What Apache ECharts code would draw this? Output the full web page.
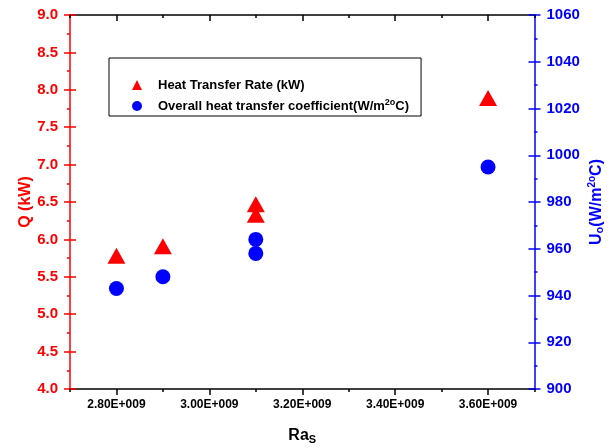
<!DOCTYPE html>
<html>
<head>
<meta charset="utf-8">
<script src="https://cdn.jsdelivr.net/npm/echarts@6/dist/echarts.min.js"></script>
<style>
html,body{margin:0;padding:0;background:#fff;}
#chart{width:612px;height:448px;}
</style>
</head>
<body>
<div id="chart"></div>
<script>
// Data
const raValues = [2.8e9, 2.9e9, 3.1e9, 3.1e9, 3.6e9];
const qValues = [5.78, 5.91, 6.33, 6.47, 7.89];
const uRaValues = [2.8e9, 2.9e9, 3.1e9, 3.1e9, 3.6e9];
const uValues = [943, 948, 958, 964, 995];
const xTickValues = [2.8e9, 3.0e9, 3.2e9, 3.4e9, 3.6e9];
const seriesNames = ['Heat Transfer Rate (kW)', 'Overall heat transfer coefficient(W/m2oC)'];

const FONT = "'Liberation Sans', Arial, sans-serif";
const RED = '#ff0000', BLUE = '#0000ff', BLACK = '#000000';

const qData = raValues.map((x, i) => [x, qValues[i]]);
const uData = uRaValues.map((x, i) => [x, uValues[i]]);

const xMin = 2.7e9, xMax = 3.7e9;
const fmtX = v => (v / 1e9).toFixed(2) + 'E+009';

const chart = echarts.init(document.getElementById('chart'), null, {renderer: 'canvas'});
chart.setOption({
  animation: false,
  backgroundColor: '#fff',
  textStyle: {fontFamily: FONT},
  grid: {left: 70, right: 77.5, top: 15, bottom: 59, containLabel: false, outerBoundsMode: 'none'},
  legend: {
    orient: 'vertical',
    left: 109, top: 58,
    padding: [19, 12, 2, 23],
    borderColor: BLACK, borderWidth: 1,
    itemWidth: 10, itemHeight: 10, itemGap: 5,
    data: [
      {name: seriesNames[0], icon: 'triangle'},
      {name: seriesNames[1], icon: 'circle'}
    ],
    formatter: function (name) {
      if (name === seriesNames[1]) return '{g|}Overall heat transfer coefficient(W/m{sup|2o}C)';
      return '{g|}' + name;
    },
    textStyle: {
      fontFamily: FONT, fontSize: 13, fontWeight: 'bold', color: BLACK, lineHeight: 16,
      rich: {
        g: {width: 11, lineHeight: 16},
        sup: {fontFamily: FONT, fontSize: 9, fontWeight: 'bold', color: BLACK, lineHeight: 8, verticalAlign: 'top'}
      }
    }
  },
  xAxis: [
    {
      type: 'value', position: 'bottom', min: xMin, max: xMax,
      name: 'Ra{sub|S}', nameLocation: 'middle', nameGap: 38, nameMoveOverlap: false,
      nameTextStyle: {
        fontFamily: FONT, fontSize: 16, fontWeight: 'bold', color: BLACK, lineHeight: 18,
        rich: {sub: {fontFamily: FONT, fontSize: 11, fontWeight: 'bold', color: BLACK, lineHeight: 8, verticalAlign: 'bottom'}}
      },
      axisLine: {show: true, lineStyle: {color: BLACK, width: 1.5}},
      axisTick: {show: true, length: 6, inside: false, customValues: xTickValues, lineStyle: {color: BLACK, width: 1.5}},
      axisLabel: {show: true, customValues: xTickValues, formatter: fmtX, margin: 10,
        fontFamily: FONT, fontSize: 12, fontWeight: 'bold', color: BLACK},
      splitLine: {show: false}
    },
    {
      type: 'value', position: 'bottom', min: xMin, max: xMax, interval: 1e8,
      axisLine: {show: false},
      axisTick: {show: true, length: 3, inside: false, lineStyle: {color: BLACK, width: 1.5}},
      axisLabel: {show: false}, splitLine: {show: false}
    },
    {
      type: 'value', position: 'top', min: xMin, max: xMax,
      axisLine: {show: true, lineStyle: {color: BLACK, width: 1.5}},
      axisTick: {show: true, length: 6, inside: true, customValues: xTickValues, lineStyle: {color: BLACK, width: 1.5}},
      axisLabel: {show: false}, splitLine: {show: false}
    },
    {
      type: 'value', position: 'top', min: xMin, max: xMax, interval: 1e8,
      axisLine: {show: false},
      axisTick: {show: true, length: 3, inside: true, lineStyle: {color: BLACK, width: 1.5}},
      axisLabel: {show: false}, splitLine: {show: false}
    }
  ],
  yAxis: [
    {
      type: 'value', position: 'left', min: 4, max: 9, interval: 0.5,
      name: 'Q (kW)', nameLocation: 'middle', nameGap: 36, nameMoveOverlap: false,
      nameTextStyle: {fontFamily: FONT, fontSize: 16, fontWeight: 'bold', color: RED},
      axisLine: {show: true, lineStyle: {color: RED, width: 1.5}},
      axisTick: {show: true, length: 6, inside: false, lineStyle: {color: RED, width: 1.5}},
      minorTick: {show: true, splitNumber: 2, length: 3, lineStyle: {color: RED, width: 1.5}},
      axisLabel: {formatter: v => v.toFixed(1), margin: 12, fontFamily: FONT, fontSize: 15, fontWeight: 'bold', color: RED},
      splitLine: {show: false}
    },
    {
      type: 'value', position: 'right', min: 900, max: 1060, interval: 20,
      name: 'U{sub|o}(W/m{sup|2o}C)', nameLocation: 'middle', nameGap: 53, nameMoveOverlap: false,
      nameTextStyle: {
        fontFamily: FONT, fontSize: 16, fontWeight: 'bold', color: BLUE, lineHeight: 18,
        rich: {
          sub: {fontFamily: FONT, fontSize: 11, fontWeight: 'bold', color: BLUE, lineHeight: 8, verticalAlign: 'bottom'},
          sup: {fontFamily: FONT, fontSize: 10, fontWeight: 'bold', color: BLUE, lineHeight: 8, verticalAlign: 'top'}
        }
      },
      axisLine: {show: true, lineStyle: {color: BLUE, width: 1.5}},
      axisTick: {show: true, length: 6, inside: false, lineStyle: {color: BLUE, width: 1.5}},
      minorTick: {show: true, splitNumber: 2, length: 3, lineStyle: {color: BLUE, width: 1.5}},
      axisLabel: {formatter: v => String(v), margin: 12, fontFamily: FONT, fontSize: 15, fontWeight: 'bold', color: BLUE},
      splitLine: {show: false}
    },
    {
      type: 'value', position: 'left', min: 4, max: 9, interval: 0.5,
      axisLine: {show: false},
      axisTick: {show: true, length: 6, inside: true, lineStyle: {color: RED, width: 1.5}},
      axisLabel: {show: false}, splitLine: {show: false}
    },
    {
      type: 'value', position: 'right', min: 900, max: 1060, interval: 20,
      axisLine: {show: false},
      axisTick: {show: true, length: 6, inside: true, lineStyle: {color: BLUE, width: 1.5}},
      axisLabel: {show: false}, splitLine: {show: false}
    }
  ],
  series: [
    {
      name: seriesNames[0], type: 'scatter', xAxisIndex: 0, yAxisIndex: 0,
      symbol: 'triangle', symbolSize: [18, 16],
      itemStyle: {color: RED, opacity: 1},
      data: qData
    },
    {
      name: seriesNames[1], type: 'scatter', xAxisIndex: 0, yAxisIndex: 1,
      symbol: 'circle', symbolSize: 15,
      itemStyle: {color: BLUE, opacity: 1},
      data: uData
    }
  ]
});
</script>
</body>
</html>
